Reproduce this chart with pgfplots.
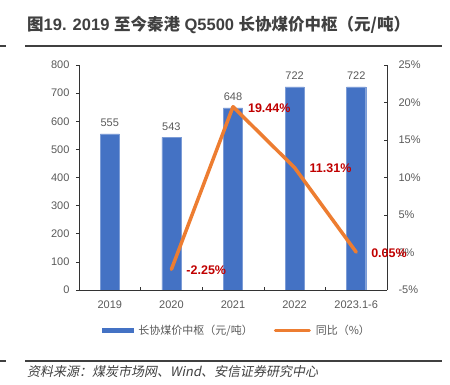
\documentclass[border=0pt]{standalone}
\usepackage{fontspec}
\setmainfont{Liberation Sans}
\newfontfamily\cjk{Noto Sans CJK SC}
\newfontfamily\cjkit[FakeSlant=0.2]{Noto Sans CJK SC}
\usepackage{pgfplots}
\pgfplotsset{compat=1.18}
\definecolor{barblue}{HTML}{4472C4}
\definecolor{lineorange}{HTML}{ED7D31}
\definecolor{labred}{HTML}{C00000}
\definecolor{tickgrey}{HTML}{595959}
\definecolor{rulegrey}{HTML}{404040}
\begin{document}
\begin{tikzpicture}[x=1pt,y=1pt]
\useasboundingbox (0,0) rectangle (450,384);
% title and rules
\node[anchor=base west, inner sep=0pt, text=rulegrey, font=\fontsize{16.5}{18}\selectfont\bfseries] at (27,353)
  {{\cjk\bfseries 图}19. 2019 {\cjk\bfseries 至今秦港} Q5500 {\cjk\bfseries 长协煤价中枢（元/吨）}};
\draw[rulegrey, line width=1.6pt] (25,338) -- (442,338);
\draw[rulegrey, line width=1.6pt] (0,338) -- (6,338);
\draw[rulegrey, line width=1.6pt] (25,23) -- (442,23);
\draw[rulegrey, line width=1.6pt] (0,23) -- (6,23);
\node[anchor=base west, inner sep=0pt, text=rulegrey, font=\fontsize{13}{15}\selectfont] at (27,8)
  {\cjkit 资料来源：煤炭市场网、Wind、安信证券研究中心};
% bars
\begin{axis}[
  at={(79pt,94pt)}, anchor=south west,
  scale only axis, width=308pt, height=225pt,
  xmin=-0.5, xmax=4.5, ymin=0, ymax=800,
  axis y line*=left, axis x line*=bottom,
  axis line style={black!80, line width=0.6pt, -},
  xtick={0,1,2,3,4},
  xticklabels={2019,2020,2021,2022,2023.1-6},
  x tick style={draw=none},
  ytick={0,100,...,800},
  ytick align=outside,
  y tick style={black!80, line width=0.6pt},
  major tick length=3pt,
  tick label style={font=\fontsize{11}{13}\selectfont, text=tickgrey},
  /pgf/number format/assume math mode=true,
  yticklabel style={xshift=-3pt},
  xticklabel style={yshift=-7pt},
  clip=false,
]
\addplot[ybar, bar width=0.31, fill=barblue, draw=barblue!70!white, line width=0.4pt,
  nodes near coords, nodes near coords style={font=\fontsize{11}{13}\selectfont, text=tickgrey, anchor=south, yshift=3.5pt}]
  coordinates {(0,555) (1,543) (2,648) (3,722) (4,722)};
\end{axis}
% line
\begin{axis}[
  at={(79pt,94pt)}, anchor=south west,
  scale only axis, width=308pt, height=225pt,
  xmin=-0.5, xmax=4.5, ymin=-5, ymax=25,
  axis y line*=right, axis x line*=bottom,
  axis line style={black!80, line width=0.6pt, -},
  xtick={0.5,1.5,2.5,3.5},
  xticklabels={},
  x tick style={black!80, line width=0.6pt},
  xtick align=inside,
  ytick={-5,0,...,25},
  ytick align=inside,
  y tick style={black!80, line width=0.6pt},
  major tick length=3pt,
  yticklabel={\pgfmathprintnumber{\tick}\%},
  tick label style={font=\fontsize{11}{13}\selectfont, text=tickgrey},
  /pgf/number format/assume math mode=true,
  yticklabel style={xshift=8pt},
  clip=false,
  legend style={at={(0.513,-0.178)}, anchor=center, draw=none, fill=none,
    font=\fontsize{11}{13}\selectfont\cjk, text=tickgrey, legend columns=2,
    /tikz/every odd column/.append style={column sep=3pt},
    /tikz/every even column/.append style={column sep=19pt}},
  legend cell align=left,
]
\addlegendimage{legend image code/.code={\fill[barblue] (0pt,-2.2pt) rectangle (31pt,2.2pt);}}
\addlegendentry{长协煤价中枢（元/吨）}
\addplot[lineorange, line width=3.5pt, line join=round, line cap=round, mark=none,
  legend image code/.code={\draw[lineorange, line width=3pt, line cap=round] (0pt,0pt) -- (34pt,0pt);},
  nodes near coords, point meta=explicit symbolic,
  nodes near coords style={font=\fontsize{12.5}{14}\selectfont\bfseries, text=labred, anchor=west, xshift=10pt, yshift=-1pt}]
  coordinates {(1,-2.25) [-2.25\%] (2,19.44) [19.44\%] (3,11.31) [11.31\%] (4,0.05) [0.05\%]};
\addlegendentry{同比（\%）}
\end{axis}
\end{tikzpicture}
\end{document}
